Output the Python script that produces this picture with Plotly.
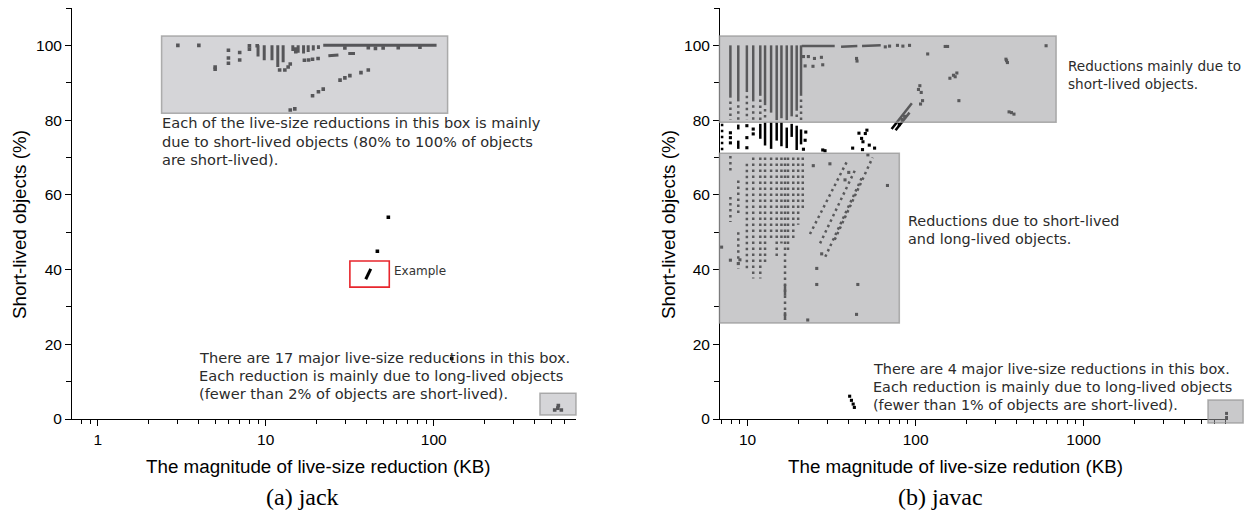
import math
import plotly.graph_objects as go

# ---------------- data: jack ----------------
jack_pt_x = [3.0, 4.0, 5.0, 5.0, 6.0, 6.0, 6.0, 7.0, 7.0, 8.0, 8.0, 8.9,
             12.1, 13.0, 14.0, 13.6, 15.1, 15.1,
             17, 18, 19, 20.5,
             29.6, 40.8, 45, 50, 61.5, 82.8,
             14.0, 14.9, 19.0, 20.6, 22.0, 27.7, 29.6, 31.7, 36.9, 40.8,
             53.7, 46.2, 128,
             525, 548, 552, 575]
jack_pt_y = [100, 100, 93.6, 94.2, 98.7, 96.6, 95.2, 98.1, 96.1, 99.9, 99.0, 99.9,
             93.4, 93.4, 95.0, 94.2, 99.0, 98.3,
             96, 96.1, 96.3, 96.5,
             99.3, 99.4, 99.2, 99.3, 99.4, 99.5,
             82.7, 83.0, 86.5, 87.6, 88.3, 90.7, 91.3, 91.9, 92.7, 93.4,
             54.0, 44.9, 16.2,
             2.4, 2.9, 3.6, 2.4]
# runs of adjacent points (start / end)
jack_run_x0 = [9, 9.8, 10.9, 11.8, 12.7, 14.5, 15.6, 16.8, 17.9, 19.2, 20.6, 22, 23.6, 31, 39.4]
jack_run_y0 = [100, 100, 100, 100, 100, 100, 100, 100, 100, 100, 100, 100, 97.2, 97.8, 37.4]
jack_run_x1 = [9, 9.8, 10.9, 11.8, 12.7, 14.5, 15.6, 16.8, 17.9, 19.2, 20.6, 104, 27.1, 34, 42.2]
jack_run_y1 = [97, 96, 96, 94.2, 95.5, 98.5, 98.0, 97.8, 98.2, 98.6, 99.0, 100, 97.4, 97.8, 40.2]

# ---------------- data: javac ----------------
javac_run_x0 = [7.9, 8.8, 9.9, 10.8, 11.9, 12.7, 13.8, 14.9, 15.9, 17.1, 18.3, 19.6, 20.8,
                8.8, 8.8, 11.9, 12.7, 13.8, 14.9, 15.9, 17.1, 18.3, 19.6, 20.8,
                21, 36, 48, 16.7, 16.7, 72, 76]
javac_run_y0 = [100, 100, 100, 100, 100, 100, 100, 100, 100, 100, 100, 100, 100,
                78.8, 74.5, 79, 79.4, 79.4, 79.4, 79.4, 78, 79, 78.5, 77.5,
                99.8, 99.6, 99.8, 36, 28.6, 77.6, 77.3]
javac_run_x1 = [7.9, 8.8, 9.9, 10.8, 11.9, 12.7, 13.8, 14.9, 15.9, 17.1, 18.3, 19.6, 20.8,
                8.8, 8.8, 11.9, 12.7, 13.8, 14.9, 15.9, 17.1, 18.3, 19.6, 20.8,
                33, 45, 62, 16.7, 16.7, 95, 92]
javac_run_y1 = [86, 85, 87.5, 85, 86.5, 84, 82, 80, 80.5, 80, 81, 82.5, 86.5,
                77.5, 72.3, 75, 73.2, 72.3, 74.5, 73, 72.5, 75.5, 72, 73.5,
                99.8, 99.8, 100, 33, 26.5, 84.5, 82.0]
# sparser (dotted) runs
javac_dot_x0 = [7.9, 8.8, 9.9, 10.8, 11.9, 12.7, 19.6, 20.8, 7.05,
                7.9, 7.9, 8.8, 8.8, 9.9, 10.8, 11.9, 12.7, 13.8, 14.9, 15.9, 16.7, 17.4, 18.7, 20, 21.3,
                23.5, 27, 29, 33]
javac_dot_y0 = [85, 84, 86.5, 84, 85.5, 83, 81.5, 85.5, 79,
                70.4, 59.4, 63.8, 50, 68.3, 70, 70, 70, 70, 70, 70, 70, 70, 70, 70, 70,
                49.5, 47, 43.4, 48]
javac_dot_x1 = [7.9, 8.8, 9.9, 10.8, 11.9, 12.7, 19.6, 20.8, 7.05,
                7.9, 7.9, 8.8, 8.8, 9.9, 10.8, 11.9, 12.7, 13.8, 14.9, 15.9, 16.7, 17.4, 18.7, 20, 21.3,
                38.8, 44, 48, 55.5]
javac_dot_y1 = [80, 80, 80, 80, 80, 80, 80, 80, 71.5,
                65.6, 52.7, 55, 40.2, 39.8, 37.6, 37.6, 41.6, 48, 43, 47, 26.5, 45, 47.5, 52, 56,
                68.7, 67, 64.7, 70]
javac_pt_x = [7.9, 7.9, 7.9, 9.9, 9.9, 9.9, 10.8, 10.8,
              22, 21.5, 22.2, 28.0, 28.9,
              42.2, 47.7, 48.6, 50.2, 51.3, 48.3, 53, 57, 52, 46,
              21.5, 23, 25, 27.5, 22, 24.5, 28, 44.5, 44.8, 66, 70, 78, 84, 92, 118, 150, 155, 598,
              160, 168, 176, 172, 181, 348, 352, 345, 360, 372, 385,
              106, 108, 110, 107, 104, 80, 86, 83,
              7.0, 7.9, 8.8, 9.0, 22.8, 44.5, 45.3, 25.8, 25.8, 24.6, 30.9, 68, 27.6, 40, 38,
              40.5, 41.5, 42.5, 43.2, 7100, 7100]
javac_pt_y = [76.6, 75.3, 73.9, 78.5, 75.3, 72.6, 77.6, 76.3,
              74.6, 72.2, 76.8, 72.0, 71.8,
              72.5, 75.1, 74.2, 76.4, 77.3, 72.1, 73.3, 72.5, 70.7, 76.5,
              97.0, 97.0, 96.5, 96.8, 94.5, 94.4, 94.8, 96.5, 95.8, 99.6, 99.8, 100, 99.8, 100, 97.7, 99.7, 99.7, 99.9,
              91.2, 92.0, 92.6, 91.6, 85.2, 95.9, 95.4, 96.3, 82.2, 82.0, 81.6,
              89.2, 87.4, 85.2, 84.3, 88.2, 78.8, 81, 80.2,
              46, 42.5, 41.6, 42.6, 26.5, 28, 36, 36, 40.3, 67.8, 68.3, 62.5, 44.2, 66, 64,
              6.1, 5.0, 4.0, 3.1, 1.5, 0.4]

# highlighted regions [x0, x1, y0, y1]
jack_box_main = [2.4, 121, 81.8, 102.5]
jack_box_low = [429, 703, 1.1, 6.9]
jack_box_example = [31.7, 54.4, 35.3, 42.3]
javac_box_main = [6.8, 686, 79.4, 102.5]
javac_box_mid = [6.8, 80, 25.7, 71.1]
javac_box_low = [5500, 8900, -1.1, 5.1]

jack_tickvals = [1, 10, 100]
jack_ticktext = ["1", "10", "100"]
javac_tickvals = [10, 100, 1000]
javac_ticktext = ["10", "100", "1000"]
y_tickvals = [0, 20, 40, 60, 80, 100]

# ---------------- figure ----------------
W, H = 1250, 516
XR1 = [-0.153, 2.844]
XR2 = [0.8357, 3.8595]
YR = [0, 110]


def seg(x0, y0, x1, y1):
    xs, ys = [], []
    for a, b, c, d in zip(x0, y0, x1, y1):
        xs += [a, c, None]
        ys += [b, d, None]
    return xs, ys


fig = go.Figure()

for (xa, ya, rx0, ry0, rx1, ry1, px_, py_, w) in [
        ("x", "y", jack_run_x0, jack_run_y0, jack_run_x1, jack_run_y1, jack_pt_x, jack_pt_y, 3.0),
        ("x2", "y2", javac_run_x0, javac_run_y0, javac_run_x1, javac_run_y1, javac_pt_x, javac_pt_y, 2.5)]:
    sx, sy = seg(rx0, ry0, rx1, ry1)
    fig.add_trace(go.Scatter(x=sx, y=sy, mode="lines", xaxis=xa, yaxis=ya,
                             line=dict(color="black", width=w), showlegend=False, hoverinfo="skip"))
    fig.add_trace(go.Scatter(x=px_, y=py_, mode="markers", xaxis=xa, yaxis=ya,
                             marker=dict(symbol="square", size=w + 0.6, color="black", line=dict(width=0)),
                             showlegend=False))

dx, dy = seg(javac_dot_x0, javac_dot_y0, javac_dot_x1, javac_dot_y1)
fig.add_trace(go.Scatter(x=dx, y=dy, mode="lines", xaxis="x2", yaxis="y2",
                         line=dict(color="black", width=2.5, dash="2.5px,3.5px"),
                         showlegend=False, hoverinfo="skip"))


def fx(v, r):
    return (math.log10(v) - r[0]) / (r[1] - r[0])


def fy(v, r):
    return (v - r[0]) / (r[1] - r[0])


shapes = []


def box(b, xn, yn, xr, fill, line):
    shapes.append(dict(type="rect", xref=xn + " domain", yref=yn + " domain",
                       x0=fx(b[0], xr), x1=fx(b[1], xr), y0=fy(b[2], YR), y1=fy(b[3], YR),
                       fillcolor=fill, line=line, layer="above"))


g1 = "rgba(172,172,178,0.5)"
g2 = "rgba(158,158,162,0.56)"
ln = dict(color="rgba(150,150,150,0.75)", width=1.5)
box(jack_box_main, "x", "y", XR1, g1, ln)
box(jack_box_low, "x", "y", XR1, g1, ln)
box(jack_box_example, "x", "y", XR1, "rgba(0,0,0,0)", dict(color="#e8262d", width=1.6))
box(javac_box_main, "x2", "y2", XR2, g2, ln)
box(javac_box_mid, "x2", "y2", XR2, g2, ln)
box(javac_box_low, "x2", "y2", XR2, g2, ln)

tickfont = dict(family="Liberation Sans, Arial", size=15.5, color="black")
common = dict(showline=True, linecolor="black", linewidth=1, ticks="outside", ticklen=6,
              tickcolor="black", tickfont=tickfont, showgrid=False, zeroline=False,
              automargin=False, mirror=False)
minor_log = dict(ticks="outside", ticklen=4, tickcolor="black", dtick="D1", showgrid=False)
ydom = [1 - 419 / H, 1 - 8 / H]

fig.update_layout(
    width=W, height=H, margin=dict(l=0, r=0, t=0, b=0),
    paper_bgcolor="white", plot_bgcolor="white",
    xaxis=dict(domain=[72 / W, 575.5 / W], type="log", range=XR1, anchor="y",
               tickmode="array", tickvals=jack_tickvals, ticktext=jack_ticktext,
               minor=minor_log, **common),
    yaxis=dict(domain=ydom, range=YR, anchor="x", tickmode="array", tickvals=y_tickvals,
               minor=dict(ticks="outside", ticklen=5, tickcolor="black", dtick=10, tick0=0, showgrid=False),
               **common),
    xaxis2=dict(domain=[720 / W, 1228 / W], type="log", range=XR2, anchor="y2",
                tickmode="array", tickvals=javac_tickvals, ticktext=javac_ticktext,
                minor=minor_log, **common),
    yaxis2=dict(domain=ydom, range=YR, anchor="x2", tickmode="array", tickvals=y_tickvals,
                minor=dict(ticks="outside", ticklen=5, tickcolor="black", dtick=10, tick0=0, showgrid=False),
                **common),
    shapes=shapes,
)

ann = []
note_font = dict(family="DejaVu Sans", size=14.6, color="#2b2b2b")
note_font2 = dict(family="DejaVu Sans", size=14.4, color="#2b2b2b")
note_font3 = dict(family="DejaVu Sans", size=13.6, color="#2b2b2b")


def text(s, x, y, font, xanchor="left", angle=0):
    ann.append(dict(text=s, x=x / W, y=1 - y / H, xref="paper", yref="paper", showarrow=False,
                    xanchor=xanchor, yanchor="middle", font=font, textangle=angle))


for i, s in enumerate(["Each of the live-size reductions in this box is mainly",
                       "due to short-lived objects (80% to 100% of objects",
                       "are short-lived)."]):
    text(s, 160, 123 + 18 * i, note_font)
for i, s in enumerate(["There are 17 major live-size reductions in this box.",
                       "Each reduction is mainly due to long-lived objects",
                       "(fewer than 2% of objects are short-lived)."]):
    text(s, 197, 357 + 18 * i, note_font)
text("Example", 392, 271, dict(family="DejaVu Sans", size=12, color="#333"))

for i, s in enumerate(["Reductions mainly due to", "short-lived objects."]):
    text(s, 1066, 66 + 18 * i, note_font3)
for i, s in enumerate(["Reductions due to short-lived", "and long-lived objects."]):
    text(s, 906, 221 + 18 * i, note_font2)
for i, s in enumerate(["There are 4 major live-size reductions in this box.",
                       "Each reduction is mainly due to long-lived objects",
                       "(fewer than 1% of objects are short-lived)."]):
    text(s, 871, 369 + 18 * i, note_font2)

title_font = dict(family="Liberation Sans, Arial", size=18.8, color="black")
text("The magnitude of live-size reduction (KB)", 318, 466, title_font, "center")
text("The magnitude of live-size redution (KB)", 955, 466, title_font, "center")
text("Short-lived objects (%)", 19, 225, title_font, "center", -90)
text("Short-lived objects (%)", 668, 225, title_font, "center", -90)
cap_font = dict(family="Liberation Serif, Times New Roman", size=24, color="black")
text("(a) jack", 302, 497, cap_font, "center")
text("(b) javac", 940, 497, cap_font, "center")

fig.update_layout(annotations=ann)
fig.write_html("out.html")
